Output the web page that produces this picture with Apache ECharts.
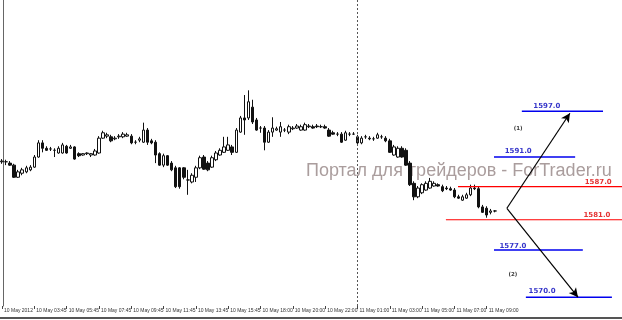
<!DOCTYPE html>
<html>
<head>
<meta charset="utf-8">
<script src="https://cdn.jsdelivr.net/npm/echarts@6/dist/echarts.min.js"></script>
<style>html,body{margin:0;padding:0;background:#fff;}#c{width:622px;height:320px;}</style>
</head>
<body>
<div id="c"></div>
<script>
// ---- data ----
const tickLabels = ['10 May 2012','10 May 03:45','10 May 05:45','10 May 07:45','10 May 09:45','10 May 11:45','10 May 13:45','10 May 15:45','10 May 18:00','10 May 20:00','10 May 22:00','11 May 01:00','11 May 03:00','11 May 05:00','11 May 07:00','11 May 09:00'];
const opens  = [1590.0,1590.0,1589.8,1589.5,1587.7,1588.3,1588.5,1588.8,1589.2,1590.7,1592.8,1592.0,1591.9,1591.7,1591.3,1591.3,1592.3,1592.0,1592.2,1591.2,1591.0,1591.2,1591.0,1591.0,1591.3,1593.5,1593.8,1593.7,1593.4,1593.7,1593.7,1593.8,1593.8,1592.9,1593.2,1592.9,1594.7,1593.1,1592.9,1591.2,1589.5,1590.9,1589.8,1589.1,1589.1,1589.1,1587.3,1587.0,1587.7,1589.1,1590.7,1589.8,1589.2,1590.3,1591.0,1591.4,1591.7,1592.2,1591.4,1594.4,1596.5,1596.5,1598.1,1596.2,1595.0,1595.0,1592.9,1594.4,1594.7,1594.4,1594.7,1594.4,1594.9,1595.0,1594.7,1594.7,1595.2,1595.2,1595.3,1595.2,1595.2,1594.7,1594.3,1594.1,1594.1,1593.2,1594.1,1594.1,1593.7,1592.8,1593.7,1593.5,1593.4,1593.5,1593.7,1593.5,1593.1,1591.0,1590.7,1592.0,1591.7,1589.8,1586.8,1584.8,1585.4,1585.8,1586.1,1586.4,1586.6,1586.3,1586.1,1586.0,1585.8,1584.8,1584.3,1584.6,1585.1,1586.1,1586.0,1583.3,1583.1,1582.5,1582.7];
const closes = [1590.1,1590.0,1589.5,1587.7,1588.5,1588.8,1589.1,1589.2,1590.7,1592.8,1592.0,1591.7,1591.9,1591.7,1592.0,1592.5,1591.3,1592.2,1590.4,1590.9,1591.2,1591.3,1591.2,1591.6,1593.5,1594.3,1594.0,1593.1,1593.5,1593.8,1594.1,1594.0,1592.8,1592.9,1593.4,1594.7,1592.9,1592.8,1591.0,1589.5,1590.9,1589.5,1588.8,1586.3,1586.3,1587.7,1587.3,1588.0,1589.1,1590.6,1588.9,1588.8,1590.6,1591.3,1591.7,1592.2,1592.5,1591.4,1594.7,1596.5,1596.2,1598.9,1595.9,1594.7,1595.0,1592.9,1594.4,1595.0,1594.9,1595.2,1594.7,1595.2,1595.0,1595.3,1595.2,1595.5,1595.3,1595.0,1595.2,1595.2,1595.0,1593.8,1594.1,1594.1,1592.9,1594.3,1594.1,1594.1,1592.8,1593.5,1593.7,1593.4,1593.4,1594.0,1593.7,1593.1,1591.4,1592.2,1592.0,1590.7,1589.5,1586.6,1584.8,1586.1,1586.6,1586.8,1587.1,1586.8,1586.4,1585.7,1586.0,1585.8,1584.8,1584.6,1584.8,1585.1,1586.1,1586.0,1583.3,1582.5,1582.1,1582.7,1582.7];
const lows   = [1589.7,1589.5,1589.4,1587.6,1587.6,1588.0,1588.3,1588.6,1589.1,1590.6,1591.4,1591.6,1591.6,1590.7,1591.2,1591.2,1591.2,1591.9,1590.3,1590.7,1590.9,1591.0,1590.7,1590.9,1591.2,1593.4,1593.5,1592.9,1593.2,1593.4,1593.5,1593.7,1592.6,1592.6,1592.9,1592.8,1592.5,1592.6,1589.8,1589.4,1589.2,1589.4,1588.6,1586.1,1586.0,1587.4,1585.1,1586.8,1587.0,1588.9,1588.8,1588.6,1589.1,1590.1,1590.9,1591.3,1591.6,1591.0,1591.3,1594.3,1594.0,1596.2,1595.6,1594.6,1594.3,1591.7,1592.8,1593.7,1594.6,1593.7,1594.4,1594.1,1594.7,1594.9,1594.6,1594.6,1595.0,1594.9,1595.0,1595.0,1594.9,1593.7,1594.0,1593.8,1592.8,1593.1,1593.8,1594.0,1592.6,1592.6,1593.4,1593.2,1593.1,1593.4,1593.4,1592.9,1591.3,1590.9,1590.6,1590.6,1589.4,1586.4,1584.3,1584.6,1585.2,1585.7,1586.0,1586.3,1586.3,1585.5,1585.8,1585.7,1584.6,1584.5,1584.2,1584.5,1584.9,1585.8,1583.1,1582.4,1581.7,1582.2,1582.5];
const highs  = [1590.4,1590.3,1590.1,1589.7,1588.8,1589.1,1589.4,1589.5,1591.0,1593.2,1593.2,1592.3,1592.2,1592.0,1592.3,1592.8,1592.5,1592.5,1592.3,1591.4,1591.3,1591.4,1591.3,1591.9,1593.8,1594.6,1594.3,1594.0,1593.8,1594.1,1594.4,1594.3,1594.1,1593.2,1593.7,1595.8,1595.0,1593.4,1593.2,1591.4,1591.2,1591.0,1590.1,1589.4,1589.2,1589.2,1588.8,1588.3,1589.4,1590.9,1591.0,1590.1,1590.9,1591.6,1592.0,1593.7,1593.7,1592.5,1595.0,1596.8,1599.9,1600.6,1599.2,1596.5,1595.3,1595.3,1594.7,1596.6,1595.2,1595.9,1595.0,1595.5,1595.3,1595.6,1595.5,1595.8,1595.6,1595.5,1595.6,1595.5,1595.5,1595.0,1594.6,1594.4,1594.4,1594.6,1594.4,1594.4,1594.0,1593.8,1594.0,1593.8,1593.7,1594.3,1594.0,1593.8,1593.4,1592.5,1592.3,1592.3,1592.0,1590.1,1587.1,1586.4,1586.8,1587.1,1587.6,1587.1,1586.8,1586.6,1586.4,1586.3,1586.1,1585.1,1585.1,1585.4,1586.6,1586.6,1586.3,1583.6,1583.4,1583.0,1582.8];

const levelLabels = ['1597.0','1591.0','1587.0','1581.0','1577.0','1570.0'];
const levelValues = [1597.5,1590.7,1586.3,1581.4,1576.9,1569.9];
const levelFrom   = [128.7,121.8,112.9,109.9,121.8,129.7];
const levelTo     = [148.8,141.9,153.5,153.5,143.8,151.0];
const levelKinds  = ['target','target','entry','entry','target','target'];
const levelLabelX = [134.9,127.8,147.6,147.3,126.5,133.7];
const levelLabelY = [1598.3,1591.6,1587.0,1582.1,1577.5,1570.8];

const waveLabels = ['(1)','(2)'];
const waveX = [127.8,126.5];
const waveY = [1594.9,1573.2];

const arrowStart = [125, 1583.1];
const arrowEnds = [[140.6,1597.2],[142.6,1569.9]];

const separatorIndex = 88;
const totalSlots = 154;

// ---- build ----
const categories = [];
for (let i = 0; i < totalSlots; i++) {
  categories.push(i % 8 === 0 && i / 8 < tickLabels.length ? tickLabels[i / 8] : '');
}
const candles = opens.map((o, i) => [o, closes[i], lows[i], highs[i]]);
const showTick = (idx) => idx % 8 === 0 && idx / 8 < tickLabels.length;

const series = [{
  type: 'candlestick',
  xAxisIndex: 0, yAxisIndex: 0,
  data: candles,
  barWidth: 3,
  itemStyle: { color: '#ffffff', color0: '#111111', borderColor: '#111111', borderColor0: '#111111', borderWidth: 1 }
}];

levelLabels.forEach((lbl, k) => {
  const col = levelKinds[k] === 'entry' ? '#ff0000' : '#0000ee';
  series.push({
    type: 'line', xAxisIndex: 1, yAxisIndex: 0,
    data: [[levelFrom[k], levelValues[k]], [levelTo[k], levelValues[k]]],
    symbol: 'none', silent: true,
    lineStyle: { color: col, width: levelKinds[k] === 'entry' ? 1.2 : 1.6 }
  });
});

series.push({
  type: 'scatter', xAxisIndex: 1, yAxisIndex: 0, symbolSize: 0, silent: true,
  data: levelLabels.map((l, k) => ({ name: l, value: [levelLabelX[k], levelLabelY[k]],
    label: { color: levelKinds[k] === 'entry' ? '#dd0000' : '#0000bb' } })),
  label: { show: true, position: 'inside', formatter: '{b}', fontFamily: 'DejaVu Sans', fontWeight: 'bold', fontSize: 7 }
});
series.push({
  type: 'scatter', xAxisIndex: 1, yAxisIndex: 0, symbolSize: 0, silent: true,
  data: waveLabels.map((l, k) => ({ name: l, value: [waveX[k], waveY[k]] })),
  label: { show: true, position: 'inside', formatter: '{b}', fontFamily: 'DejaVu Sans', fontWeight: 'bold', fontSize: 5.5, color: '#000' }
});
series.push({
  type: 'line', xAxisIndex: 1, yAxisIndex: 0, data: [], silent: true,
  markLine: {
    silent: true, animation: false,
    symbol: ['none', 'arrow'], symbolSize: [7, 9],
    label: { show: false },
    lineStyle: { color: '#000', width: 1.2, type: 'solid' },
    data: arrowEnds.map(e => [{ coord: arrowStart }, { coord: e }])
  }
});
series.push({
  type: 'line', xAxisIndex: 1, yAxisIndex: 0, data: [], silent: true,
  markLine: {
    silent: true, animation: false, symbol: ['none', 'none'],
    label: { show: false },
    lineStyle: { color: '#555', width: 1, type: [2, 2] },
    data: [{ xAxis: separatorIndex }]
  }
});

const chart = echarts.init(document.getElementById('c'), null, { renderer: 'canvas' });
chart.setOption({
  animation: false,
  backgroundColor: '#ffffff',
  grid: { left: 0, right: 0, top: 0, bottom: 14, containLabel: false },
  xAxis: [{
    type: 'category', data: categories, boundaryGap: true,
    axisLine: { show: false },
    axisTick: { show: true, interval: showTick, alignWithLabel: true, length: 3, lineStyle: { color: '#444' } },
    axisLabel: { interval: showTick, align: 'left', margin: 2, padding: [0, 0, 0, 2], fontSize: 5, fontFamily: 'Liberation Sans', color: '#333' },
    splitLine: { show: false }
  }, {
    type: 'value', min: -0.5, max: totalSlots - 0.5, position: 'bottom', offset: 12,
    axisLine: { show: true, lineStyle: { color: '#555', width: 2 } },
    axisTick: { show: false }, axisLabel: { show: false }, splitLine: { show: false }
  }],
  yAxis: [{
    type: 'value', min: 1568.6, max: 1614, offset: -3,
    axisLine: { show: true, lineStyle: { color: '#666' } },
    axisTick: { show: false }, axisLabel: { show: false }, splitLine: { show: false }
  }],
  graphic: [{
    type: 'text', left: 306, top: 162, silent: true,
    style: { text: 'Портал для трейдеров - ForTrader.ru', fontSize: 18, fontFamily: 'Liberation Sans', fill: '#aa9d9d' }
  }],
  series: series
});
</script>
</body>
</html>
